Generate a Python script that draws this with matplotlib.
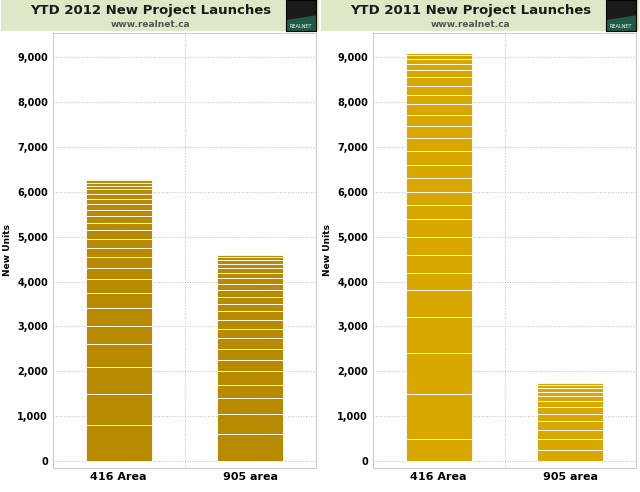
import matplotlib
matplotlib.use("Agg")
import matplotlib.pyplot as plt
import numpy as np
from matplotlib.ticker import FuncFormatter

categories = ["416 Area", "905 area"]
titles = ["YTD 2012 New Project Launches", "YTD 2011 New Project Launches"]
subtitle = "www.realnet.ca"
# cumulative boundaries of stacked project segments per bar
bounds_2012 = [
    [800,1500,2100,2600,3000,3400,3750,4050,4300,4550,4750,4950,5150,5300,5450,5600,5720,5840,5950,6050,6130,6200,6250,6280],
    [600,1050,1400,1700,2000,2250,2500,2750,2950,3150,3350,3500,3650,3800,3950,4080,4200,4300,4400,4480,4540,4580],
]
bounds_2011 = [
    [500,1500,2400,3200,3800,4200,4600,5000,5400,5700,6000,6300,6600,6900,7200,7450,7700,7950,8150,8350,8550,8700,8850,8950,9030,9080],
    [250,500,700,900,1050,1200,1350,1450,1550,1630,1700,1740],
]
colors = ["#B88A00", "#D8A800"]
yticks = list(range(0, 10000, 1000))

fig = plt.figure(figsize=(6.4, 4.92), dpi=100)
W, H = 640, 492
for p, (title, bounds, col) in enumerate(zip(titles, [bounds_2012, bounds_2011], colors)):
    x0 = p * 320
    hb = fig.add_axes([(x0+1)/W, 1-31/H, 318/W, 31/H])
    hb.set_facecolor("#DDE8C6"); hb.set_xticks([]); hb.set_yticks([])
    for s in hb.spines.values(): s.set_visible(False)
    hb.text(0.47, 0.66, title, ha="center", va="center", fontsize=9.5, fontweight="bold", color="#1a1a1a", transform=hb.transAxes)
    hb.text(0.47, 0.2, subtitle, ha="center", va="center", fontsize=6.5, fontweight="bold", color="#555555", transform=hb.transAxes)
    lg = fig.add_axes([(x0+286)/W, 1-31/H, 30/W, 31/H])
    lg.set_facecolor("#1a1a1a"); lg.set_xticks([]); lg.set_yticks([])
    lg.fill_between([0, 1], [0, 0], [0.35, 0.5], color="#1f5a45")
    lg.set_xlim(0, 1); lg.set_ylim(0, 1)
    lg.text(0.5, 0.15, "REALNET", ha="center", va="center", fontsize=3.5, color="white")
    ax = fig.add_axes([(x0+53)/W, 1-468/H, 263/W, 435/H])
    ax.set_xlim(-0.5, 1.5)
    ax.set_ylim(-150, 9530)
    for i, b in enumerate(bounds):
        prev = 0
        for v in b:
            ax.bar(i, v - prev, bottom=prev, width=0.5, color=col, edgecolor="white", linewidth=0.6, zorder=3)
            prev = v
    ax.set_yticks(yticks)
    ax.yaxis.set_major_formatter(FuncFormatter(lambda v, _: f"{int(v):,}"))
    ax.grid(axis="y", color="#bbbbbb", linestyle=":", linewidth=0.7, zorder=0)
    ax.axvline(0.5, color="#bbbbbb", linestyle=":", linewidth=0.7, zorder=0)
    ax.set_xticks([0, 1]); ax.set_xticklabels(categories, fontsize=8, fontweight="bold")
    ax.tick_params(axis="y", labelsize=7, length=0)
    ax.tick_params(axis="x", length=0, pad=3)
    for t in ax.get_yticklabels(): t.set_fontweight("bold")
    ax.set_ylabel("New Units", fontsize=6.5, fontweight="bold")
    for s in ax.spines.values(): s.set_color("#cccccc")
fig.savefig("out.png", dpi=100)
